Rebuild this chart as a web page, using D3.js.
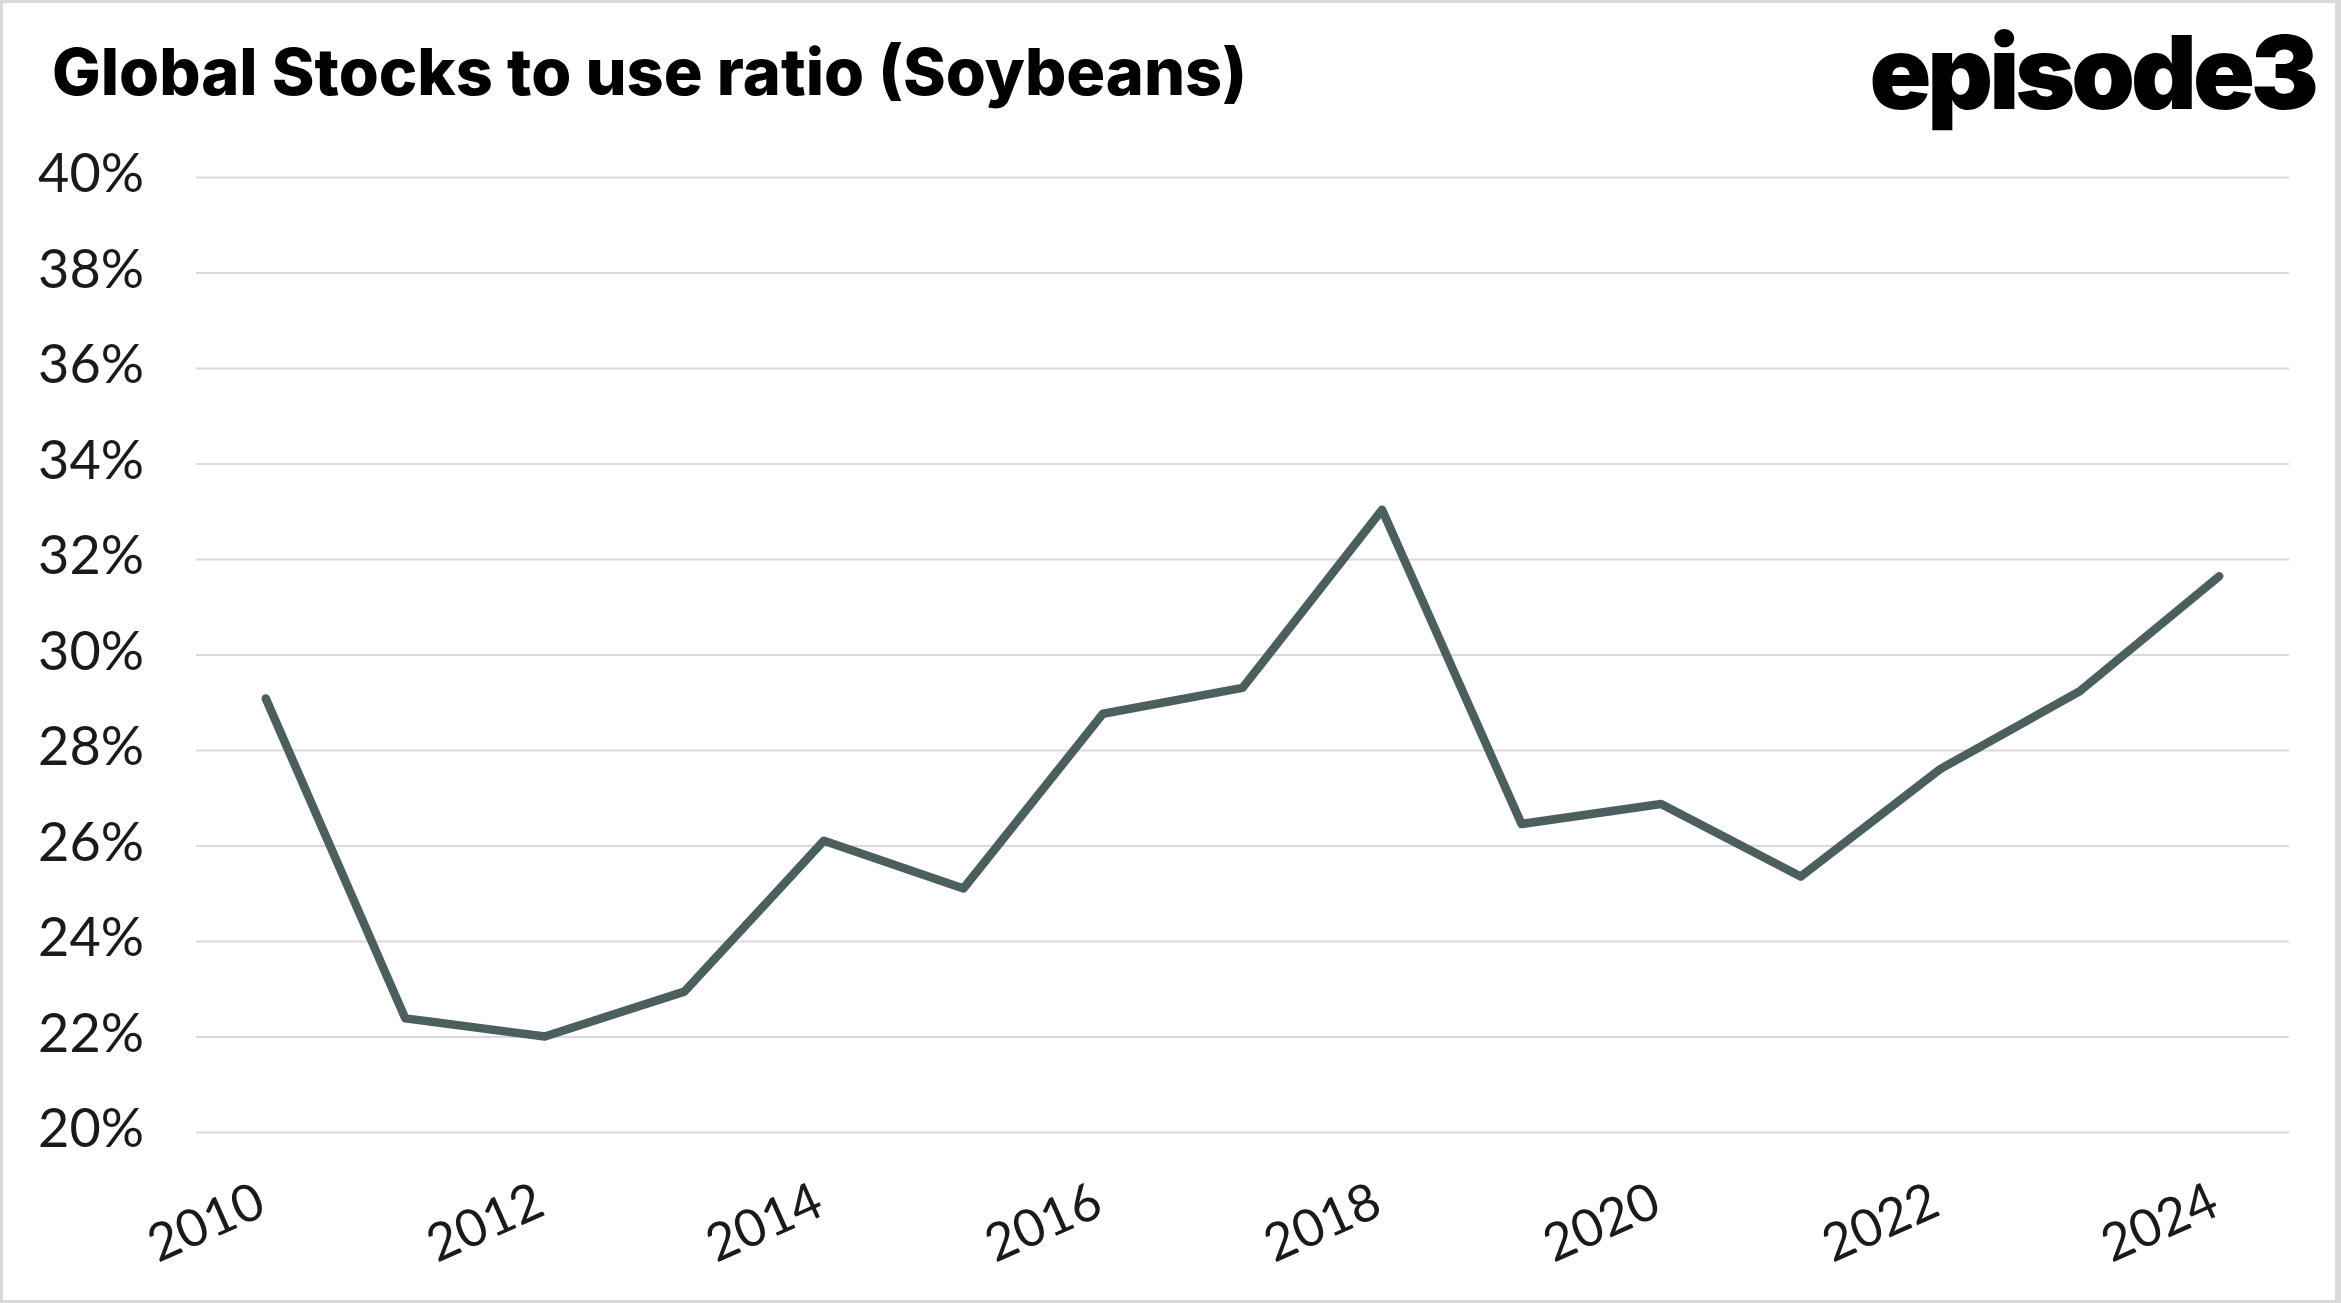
<!DOCTYPE html>
<html>
<head>
<meta charset="utf-8">
<script src="https://cdn.jsdelivr.net/npm/d3@7"></script>
<style>
  body { margin: 0; background: #fff; }
  .ytick text { font-family: Lato, "Open Sans", sans-serif; font-weight: 400; }
  .xtick text { font-family: Lato, "Open Sans", sans-serif; font-weight: 400; }
</style>
</head>
<body>
<script>
var w = 2341, h = 1303;

// data
var years = [2010, 2011, 2012, 2013, 2014, 2015, 2016, 2017, 2018, 2019, 2020, 2021, 2022, 2023, 2024];
var ratio = [29.08, 22.38, 22.0, 22.94, 26.1, 25.1, 28.76, 29.3, 33.03, 26.45, 26.87, 25.35, 27.6, 29.23, 31.64];
var yTicks = [20, 22, 24, 26, 28, 30, 32, 34, 36, 38, 40];
var xLabels = [2010, 2012, 2014, 2016, 2018, 2020, 2022, 2024];

// plot box (don't call it "top", window.top is read only)
var plotLeft = 196, plotRight = 2289, plotTop = 177, plotBottom = 1132;

var svg = d3.select("body")
  .append("svg")
  .attr("width", w)
  .attr("height", h);

// thin grey frame round the picture
svg.append("rect")
  .attr("width", w)
  .attr("height", h)
  .style("fill", "#d9d9d9");
svg.append("rect")
  .attr("x", 3)
  .attr("y", 3)
  .attr("width", w - 9)
  .attr("height", h - 6)
  .style("fill", "#fff");

var x = d3.scalePoint()
  .domain(years)
  .range([plotLeft, plotRight])
  .padding(0.5);

var y = d3.scaleLinear()
  .domain([20, 40])
  .range([plotBottom, plotTop]);

// gridlines + y labels
var yAxis = d3.axisLeft(y)
  .tickValues(yTicks)
  .tickSize(-(plotRight - plotLeft))
  .tickPadding(52)
  .tickFormat(function(d) { return d + "%"; });

var gy = svg.append("g")
  .attr("class", "ytick")
  .attr("transform", "translate(" + plotLeft + ",0)")
  .call(yAxis);
gy.select(".domain").remove();
gy.selectAll("line")
  .style("stroke", "#d9d9d9")
  .style("stroke-width", 2.2);
gy.selectAll("text")
  .attr("dy", 14.5)
  .style("font-size", "54px")
  .style("fill", "#1a1a1a");

// x labels, tilted
var xAxis = d3.axisBottom(x)
  .tickValues(xLabels)
  .tickSize(0)
  .tickFormat(d3.format("d"));

var gx = svg.append("g")
  .attr("class", "xtick")
  .attr("transform", "translate(0," + plotBottom + ")")
  .call(xAxis);
gx.select(".domain").remove();
gx.selectAll("text")
  .attr("y", 0)
  .attr("dy", 0)
  .attr("text-anchor", "end")
  .attr("transform", "translate(2,82) rotate(-24)")
  .style("font-size", "52px")
  .style("fill", "#1a1a1a");

// the series
var line = d3.line()
  .x(function(d, i) { return x(years[i]); })
  .y(function(d) { return y(d); });

svg.append("path")
  .datum(ratio)
  .attr("d", line)
  .style("fill", "none")
  .style("stroke", "#4b5f5f")
  .style("stroke-width", 8.5)
  .style("stroke-linecap", "round")
  .style("stroke-linejoin", "round");

// title
svg.append("text")
  .attr("x", 52)
  .attr("y", 95)
  .attr("textLength", 1195)
  .attr("lengthAdjust", "spacingAndGlyphs")
  .style("font-family", "Inter, 'Open Sans', sans-serif")
  .style("font-weight", 800)
  .style("font-size", "65px")
  .style("fill", "#000")
  .text("Global Stocks to use ratio (Soybeans)");

// logo, right aligned to where the reference ends
svg.append("text")
  .attr("x", 2315)
  .attr("y", 109)
  .attr("text-anchor", "end")
  .style("font-family", "Inter, 'Open Sans', sans-serif")
  .style("font-weight", 900)
  .style("font-size", "102px")
  .style("letter-spacing", "-4px")
  .style("fill", "#000")
  .text("episode3");
</script>
</body>
</html>
